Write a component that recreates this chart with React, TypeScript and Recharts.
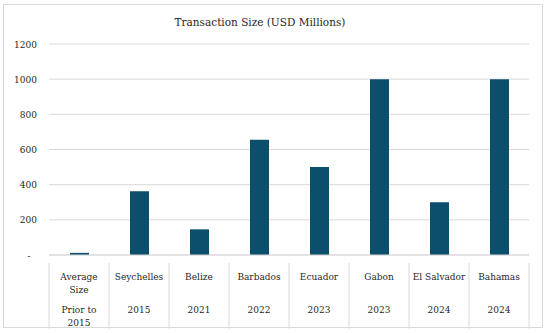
import React from 'react';
import { BarChart, Bar, XAxis, YAxis, CartesianGrid } from 'recharts';

const countries = ['Average Size', 'Seychelles', 'Belize', 'Barbados', 'Ecuador', 'Gabon', 'El Salvador', 'Bahamas'];
const years = ['Prior to 2015', '2015', '2021', '2022', '2023', '2023', '2024', '2024'];
const sizes = [12, 363, 146, 656, 500, 1000, 300, 1000];
const yTicks = [0, 200, 400, 600, 800, 1000, 1200];

const data = countries.map((c, i) => ({ key: String(i), country: c, year: years[i], size: sizes[i] }));

// only DejaVu Serif resolves to a serif face here
const FONT = "'DejaVu Serif', serif";
const GRID = '#d9d9d9';
const TEXT = '#262626';
const HALF_BAND = 30;

// greedy word wrap so long labels break like the spreadsheet cells
const wrap = (s: string, max = 11): string[] => {
  const out: string[] = [];
  let line = '';
  s.split(' ').forEach((w) => {
    if (line && (line + ' ' + w).length > max) {
      out.push(line);
      line = w;
    } else {
      line = line ? line + ' ' + w : w;
    }
  });
  if (line) out.push(line);
  return out;
};

const CategoryTick = (props: any) => {
  const { x, y, payload, index } = props;
  const row = data[Number(payload.value)];
  const top = wrap(row.country);
  const bottom = wrap(row.year);
  const last = index === data.length - 1;
  return (
    <g>
      <line x1={x - HALF_BAND} x2={x - HALF_BAND} y1={y} y2={y + 66} stroke={GRID} />
      {last && <line x1={x + HALF_BAND} x2={x + HALF_BAND} y1={y} y2={y + 66} stroke={GRID} />}
      <text textAnchor="middle" style={{ fontFamily: FONT, fontSize: 9 }} fill={TEXT}>
        {top.map((t, k) => (
          <tspan key={k} x={x} y={y + 16.5 + k * 13.5}>{t}</tspan>
        ))}
      </text>
      <text textAnchor="middle" style={{ fontFamily: FONT, fontSize: 9 }} fill={TEXT}>
        {bottom.map((t, k) => (
          <tspan key={k} x={x} y={y + 49.5 + k * 13.5}>{t}</tspan>
        ))}
      </text>
    </g>
  );
};

const ValueTick = (props: any) => {
  const { y, payload } = props;
  const zero = payload.value === 0;
  return (
    <text
      x={zero ? 29 : 37}
      y={y + 3.5}
      textAnchor={zero ? 'middle' : 'end'}
      style={{ fontFamily: FONT, fontSize: 9 }}
      fill={TEXT}
    >
      {zero ? '-' : payload.value}
    </text>
  );
};

export default function App() {
  return (
    <div style={{ position: 'absolute', left: 0, top: 0, width: 550, height: 333, background: '#fff' }}>
      <div
        style={{
          position: 'absolute',
          left: 3,
          top: 4,
          width: 538,
          height: 322,
          border: `1px solid ${GRID}`,
        }}
      />
      <div
        style={{
          position: 'absolute',
          left: 110,
          top: 15,
          width: 300,
          textAlign: 'center',
          fontFamily: FONT,
          fontSize: 10.5,
          lineHeight: '14px',
          color: TEXT,
        }}
      >
        Transaction Size (USD Millions)
      </div>
      <div style={{ position: 'absolute', left: 0, top: 0 }}>
        <BarChart width={550} height={333} data={data} margin={{ top: 44, right: 21, bottom: 0, left: 0 }}>
          <CartesianGrid vertical={false} stroke={GRID} />
          <XAxis
            dataKey="key"
            height={78}
            interval={0}
            axisLine={{ stroke: GRID }}
            tickLine={false}
            tick={<CategoryTick />}
          />
          <YAxis
            width={49}
            domain={[0, 1200]}
            ticks={yTicks}
            axisLine={false}
            tickLine={false}
            tick={<ValueTick />}
          />
          <Bar dataKey="size" fill="#0b4f6c" barSize={19} isAnimationActive={false} />
        </BarChart>
      </div>
    </div>
  );
}
